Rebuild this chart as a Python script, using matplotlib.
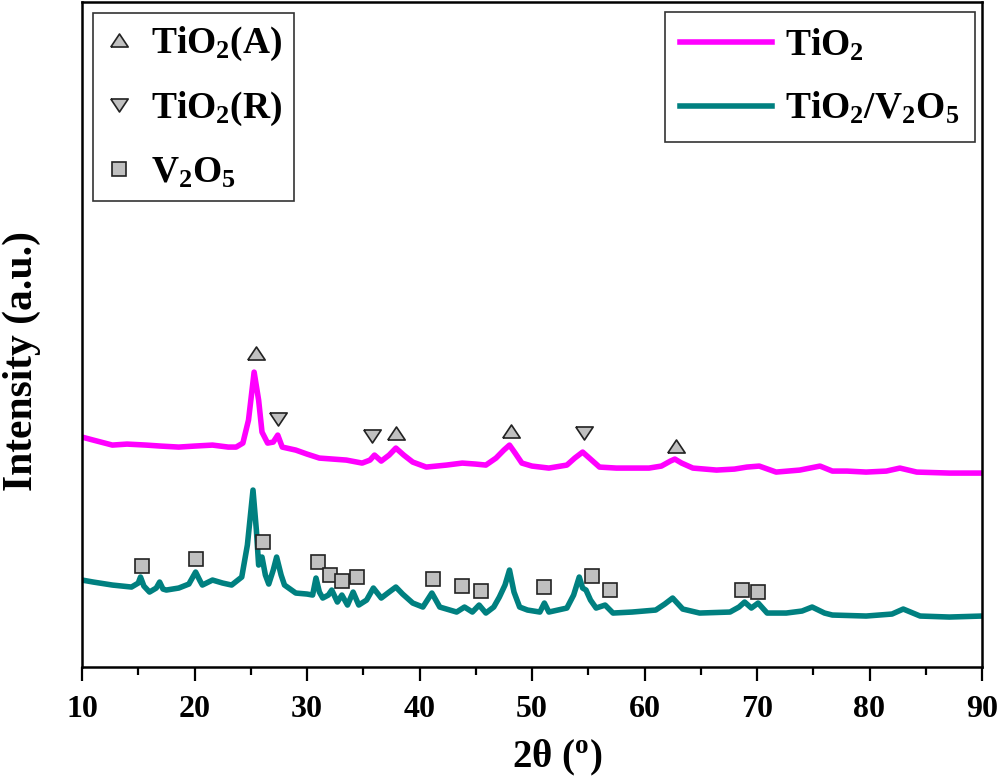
import matplotlib
matplotlib.use('Agg')
import matplotlib.pyplot as plt

plt.rcParams['font.family'] = ['Liberation Serif', 'DejaVu Serif']
plt.rcParams['font.weight'] = 'bold'
plt.rcParams['mathtext.fontset'] = 'custom'
plt.rcParams['mathtext.rm'] = 'Liberation Serif:bold'
plt.rcParams['mathtext.it'] = 'Liberation Serif:bold'
plt.rcParams['mathtext.bf'] = 'Liberation Serif:bold'

# XRD patterns (2theta in degrees, intensity in a.u.)
tio2_x = [10.0, 11.0, 12.7, 14.0, 15.7, 17.0, 18.6, 20.0, 21.6, 23.0, 23.7, 24.3, 24.8,
          25.3, 25.7, 26.0, 26.5, 27.0, 27.4, 27.8, 29.0, 30.0, 31.1, 32.3, 33.5, 34.9,
          35.6, 36.0, 36.6, 37.3, 37.9, 38.6, 39.4, 40.6, 41.5, 42.4, 43.8, 45.0, 45.9,
          46.8, 47.5, 48.0, 48.5, 49.1, 50.0, 51.5, 53.1, 53.8, 54.5, 55.2, 56.0, 57.5,
          58.9, 60.4, 61.5, 62.3, 62.7, 63.3, 64.3, 66.4, 68.0, 69.1, 70.2, 71.7, 73.8,
          75.6, 76.7, 78.0, 79.7, 81.5, 82.7, 84.2, 87.1, 90.0]
tio2_y = [230, 227, 222, 223, 222, 221, 220, 221, 222, 220, 220, 224, 247,
          295, 267, 235, 224, 225, 232, 220, 217, 213, 209, 208, 207, 204,
          207, 212, 206, 212, 219, 212, 205, 200, 201, 202, 204, 203, 202,
          209, 217, 222, 214, 204, 201, 199, 202, 209, 215, 208, 200, 199,
          199, 199, 201, 206, 208, 204, 199, 197, 198, 200, 201, 195, 197,
          201, 196, 196, 195, 196, 199, 195, 194, 194]

tv_x = [10.0, 11.0, 12.7, 14.4, 15.0, 15.2, 15.5, 16.0, 16.6, 16.9, 17.2, 17.5, 18.6,
        19.5, 20.1, 20.5, 20.7, 21.6, 22.5, 23.3, 24.2, 24.7, 25.2, 25.5, 25.7, 26.0,
        26.3, 26.6, 27.0, 27.3, 27.7, 28.0, 29.0, 30.0, 30.5, 30.8, 31.1, 31.4, 31.9,
        32.2, 32.7, 33.1, 33.6, 34.1, 34.6, 35.3, 35.9, 36.6, 37.3, 37.9, 38.5, 39.4,
        40.3, 41.1, 41.8, 43.3, 44.0, 44.7, 45.3, 45.9, 46.6, 47.1, 47.6, 48.0, 48.4,
        48.9, 49.6, 50.7, 51.1, 51.5, 53.1, 53.7, 54.2, 54.5, 54.8, 55.2, 55.7, 56.5,
        57.2, 58.9, 61.0, 61.8, 62.5, 63.4, 64.9, 67.6, 68.4, 68.9, 69.5, 70.1, 70.9,
        72.6, 74.0, 74.9, 76.0, 76.7, 79.7, 82.0, 83.0, 84.5, 87.1, 90.0]
tv_y = [87, 85, 82, 80, 84, 90, 81, 75, 79, 85, 78, 77, 79,
        83, 95, 86, 82, 87, 84, 82, 90, 122, 177, 137, 102, 110,
        92, 83, 97, 110, 92, 82, 74, 73, 72, 89, 75, 69, 72,
        77, 65, 72, 62, 75, 62, 67, 79, 69, 75, 80, 73, 64,
        60, 74, 60, 55, 60, 55, 62, 54, 60, 70, 82, 97, 75,
        60, 57, 55, 64, 55, 59, 72, 90, 79, 77, 67, 59, 62,
        54, 55, 57, 63, 69, 58, 54, 55, 60, 65, 59, 64, 54,
        54, 56, 60, 54, 52, 51, 53, 58, 51, 50, 51]

# peak markers
anatase_x = [25.5, 37.9, 48.1, 62.8]
anatase_y = [314, 234, 236, 221]
rutile_x = [27.4, 35.8, 54.6]
rutile_y = [248, 231, 234]
v2o5_x = [15.3, 20.1, 26.1, 31.0, 32.0, 33.1, 34.4, 41.2, 43.8, 45.5, 51.1, 55.3, 56.9, 68.7, 70.1]
v2o5_y = [101, 108, 125, 105, 92, 86, 90, 88, 81, 76, 80, 91, 77, 77, 75]

xticks = [10, 20, 30, 40, 50, 60, 70, 80, 90]

up_tri = [(-1, -0.75), (1, -0.75), (0, 0.75), (-1, -0.75)]
down_tri = [(-1, 0.75), (1, 0.75), (0, -0.75), (-1, 0.75)]
mk = dict(linestyle='none', markerfacecolor='#c0c0c0', markeredgecolor='#222222',
          markeredgewidth=1.2)

fig = plt.figure(figsize=(10, 7.84), dpi=100)
ax = fig.add_axes([0.082, 0.1492, 0.9, 0.848])

l1, = ax.plot(tio2_x, tio2_y, color='#ff00ff', lw=4)
l2, = ax.plot(tv_x, tv_y, color='#008080', lw=4)

m1, = ax.plot(anatase_x, anatase_y, marker=up_tri, markersize=12.5, zorder=5, **mk)
m2, = ax.plot(rutile_x, rutile_y, marker=down_tri, markersize=12.5, zorder=5, **mk)
m3, = ax.plot(v2o5_x, v2o5_y, marker='s', markersize=9.5, zorder=5, **mk)

ax.set_xlim(10, 90)
ax.set_ylim(0, 665)
ax.set_xticks(xticks)
ax.set_xticks(range(15, 90, 10), minor=True)
ax.set_yticks([])
ax.tick_params(axis='x', which='major', direction='out', length=10, width=1.6,
               labelsize=23, pad=10)
ax.tick_params(axis='x', which='minor', direction='out', length=6, width=1.6)
for s in ax.spines.values():
    s.set_linewidth(1.8)

fig.text(0.557, 1 - 758 / 784, '2θ ($^{\\rm o}$)', fontsize=28, ha='center', va='center')
fig.text(0.022, 1 - 361 / 784, 'Intensity (a.u.)', fontsize=30, rotation=90,
         ha='center', va='center')

leg1 = ax.legend([m1, m2, m3], ['TiO$_2$(A)', 'TiO$_2$(R)', 'V$_2$O$_5$'],
                 loc='upper left', bbox_to_anchor=(0.012, 0.983), borderaxespad=0,
                 fontsize=27, handlelength=0.8, handletextpad=0.45, borderpad=0.3,
                 labelspacing=0.72, fancybox=False, framealpha=1, edgecolor='#333333')
leg1.get_frame().set_linewidth(1.2)
ax.add_artist(leg1)

leg2 = ax.legend([l1, l2], ['TiO$_2$', 'TiO$_2$/V$_2$O$_5$'],
                 loc='upper right', bbox_to_anchor=(0.992, 0.985), borderaxespad=0,
                 fontsize=27, handlelength=2.45, handletextpad=0.35, borderpad=0.4,
                 labelspacing=0.72, fancybox=False, framealpha=1, edgecolor='#333333')
leg2.get_frame().set_linewidth(1.2)

fig.savefig('out.png', dpi=100)
